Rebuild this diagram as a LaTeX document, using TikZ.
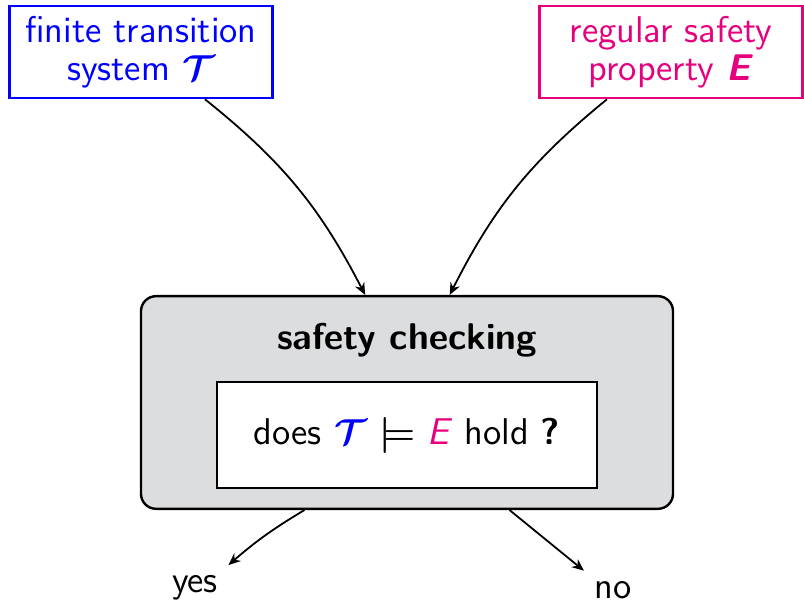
\documentclass[tikz,border=0pt]{standalone}
\usepackage{fontspec}
\usepackage{amsmath}
\usepackage{bm}
\usepackage{tikz}
\usetikzlibrary{arrows.meta,positioning}
\renewcommand{\familydefault}{\sfdefault}
\definecolor{tsblue}{RGB}{0,0,255}
\definecolor{propmag}{RGB}{230,0,126}
\definecolor{checkgray}{RGB}{220,221,223}
\tikzset{
	>={Stealth[length=4pt,width=3.4pt]},
	inbox/.style={draw,rectangle,align=center,line width=0.8pt,minimum width=3.08cm,minimum height=1.05cm},
	outer/.style={draw,rounded corners=5pt,fill=checkgray,line width=0.8pt,minimum width=6.23cm,minimum height=2.49cm},
	query/.style={draw,fill=white,line width=0.8pt,minimum width=4.45cm,minimum height=1.24cm},
	flow/.style={->,line width=0.6pt}
}

\begin{document}
\begin{tikzpicture}[font=\fontsize{12.4}{12.8}\selectfont]
            \useasboundingbox (0,0) rectangle (9.415,-7.084);
            \node[inbox,tsblue,text=tsblue] (ts) at (1.651,-0.609) {finite transition\\system $\bm{\mathcal{T}}$};
            \node[inbox,propmag,text=propmag] (prop) at (7.857,-0.609) {regular safety\\property \textbf{\textit{E}}};
            \node[outer] (check) at (4.766,-4.713) {};
            \node (title) at (4.766,-3.981) {\textbf{safety checking}};
            \node[query] (ask) at (4.766,-5.094) {does \textcolor{tsblue}{$\bm{\mathcal{T}}$} $\bm{\models}$ \textcolor{propmag}{\textit{E}} hold \textbf{?}};
            \node (yes) at (2.283,-6.885) {yes};
            \node (no) at (7.178,-6.909) {no};
            \draw[flow] ([xshift=0.75cm]ts.south) to[bend left=12] ([xshift=-0.49cm]check.north);
            \draw[flow] ([xshift=-0.75cm]prop.south) to[bend right=12] ([xshift=0.5cm]check.north);
            \draw[flow] ([xshift=-1.2cm]check.south) to[bend right=5] (yes.north east);
            \draw[flow] ([xshift=1.2cm]check.south) -- (no.north west);
        \end{tikzpicture}
\end{document}
